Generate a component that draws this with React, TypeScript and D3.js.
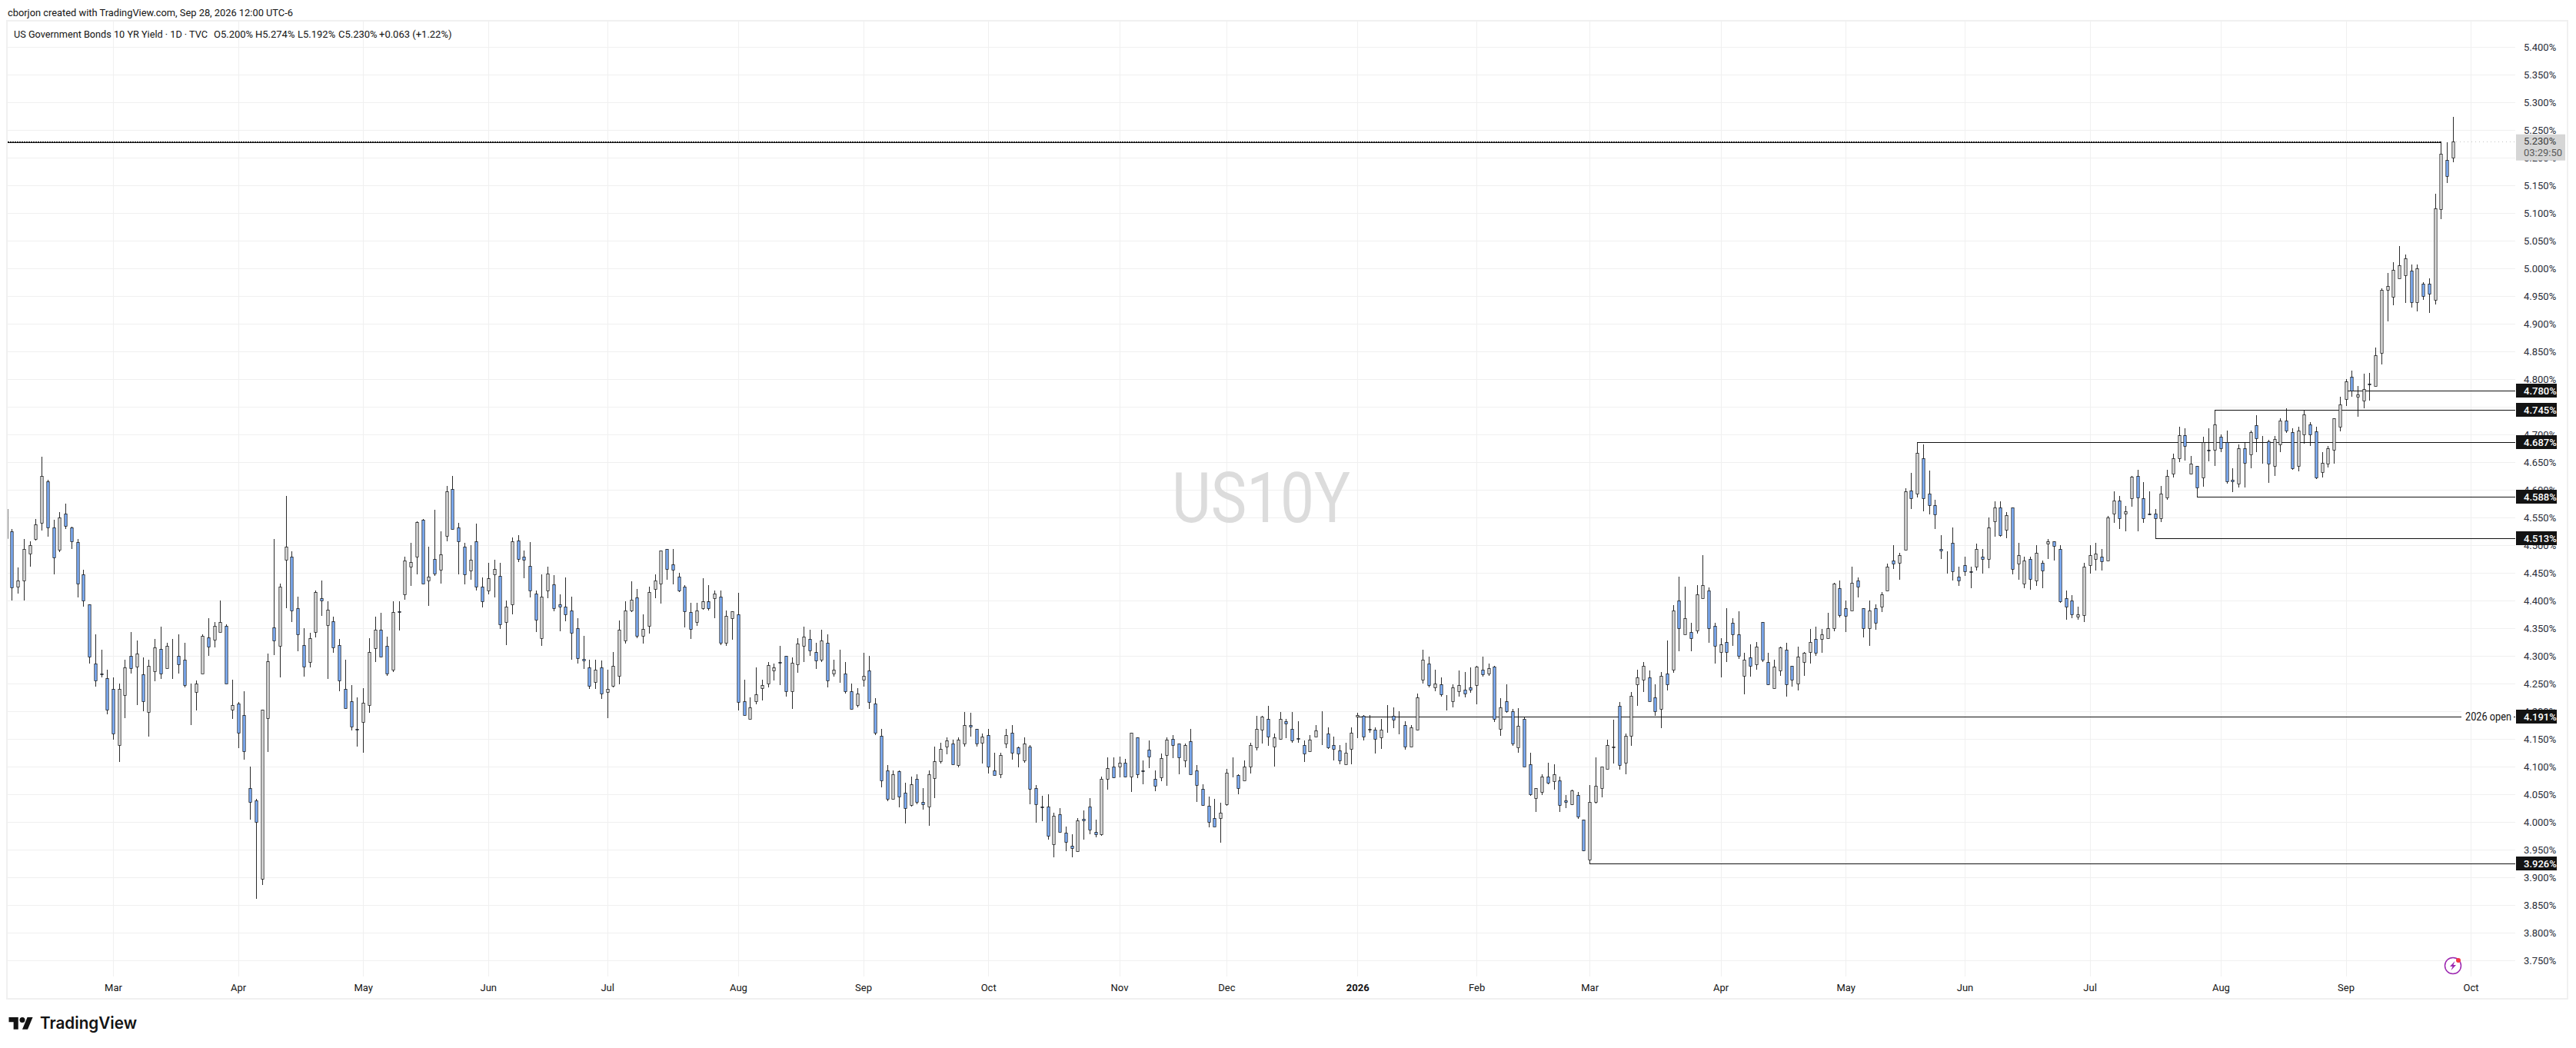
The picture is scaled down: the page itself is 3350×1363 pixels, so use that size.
import React, { useEffect, useRef } from 'react';
import * as d3 from 'd3';

// [open, high, low, close] per session, grouped by the month gridline they fall under
const feb25 = [
  [4.513, 4.566, 4.513, 4.566], [4.525, 4.529, 4.401, 4.424], [4.426, 4.46, 4.413, 4.436], [4.436, 4.512, 4.401, 4.493],
  [4.485, 4.508, 4.461, 4.501], [4.512, 4.547, 4.509, 4.538], [4.54, 4.66, 4.527, 4.626], [4.616, 4.619, 4.516, 4.533],
  [4.533, 4.546, 4.448, 4.478], [4.492, 4.56, 4.488, 4.551], [4.558, 4.576, 4.53, 4.535], [4.533, 4.534, 4.493, 4.508],
  [4.506, 4.511, 4.406, 4.431], [4.447, 4.456, 4.39, 4.4], [4.394, 4.394, 4.286, 4.299], [4.287, 4.339, 4.245, 4.256],
  [4.269, 4.312, 4.261, 4.267], [4.26, 4.276, 4.195, 4.203],
];
const mar25 = [
  [4.24, 4.262, 4.149, 4.16], [4.14, 4.251, 4.109, 4.241], [4.229, 4.294, 4.188, 4.28], [4.301, 4.344, 4.268, 4.278],
  [4.281, 4.328, 4.212, 4.305], [4.267, 4.297, 4.201, 4.219], [4.199, 4.293, 4.154, 4.283], [4.272, 4.331, 4.254, 4.316],
  [4.313, 4.353, 4.259, 4.269], [4.278, 4.324, 4.278, 4.319], [4.298, 4.331, 4.259, 4.297], [4.3, 4.339, 4.269, 4.285],
  [4.293, 4.324, 4.244, 4.247], [4.242, 4.25, 4.175, 4.242], [4.235, 4.256, 4.202, 4.25], [4.269, 4.34, 4.269, 4.337],
  [4.334, 4.369, 4.301, 4.317], [4.329, 4.362, 4.316, 4.354], [4.344, 4.4, 4.343, 4.361], [4.354, 4.358, 4.25, 4.251],
  [4.203, 4.257, 4.186, 4.211],
];
const apr25 = [
  [4.215, 4.217, 4.134, 4.161], [4.194, 4.236, 4.113, 4.128], [4.061, 4.1, 4.004, 4.037], [4.039, 4.042, 3.861, 4.0],
  [3.897, 4.203, 3.886, 4.203], [4.188, 4.304, 4.127, 4.291], [4.352, 4.512, 4.302, 4.328], [4.318, 4.431, 4.261, 4.425],
  [4.474, 4.59, 4.387, 4.497], [4.48, 4.489, 4.361, 4.383], [4.387, 4.407, 4.309, 4.339], [4.32, 4.351, 4.263, 4.281],
  [4.29, 4.342, 4.279, 4.333], [4.344, 4.418, 4.334, 4.416], [4.405, 4.437, 4.372, 4.401], [4.356, 4.399, 4.259, 4.384],
  [4.363, 4.371, 4.306, 4.315], [4.32, 4.331, 4.236, 4.256], [4.241, 4.294, 4.206, 4.206], [4.218, 4.247, 4.165, 4.172],
  [4.168, 4.226, 4.136, 4.167],
];
const may25 = [
  [4.181, 4.242, 4.125, 4.216], [4.212, 4.332, 4.197, 4.308], [4.314, 4.371, 4.29, 4.348], [4.347, 4.378, 4.299, 4.299],
  [4.319, 4.335, 4.264, 4.269], [4.275, 4.399, 4.271, 4.38], [4.381, 4.399, 4.346, 4.38], [4.412, 4.479, 4.402, 4.472],
  [4.461, 4.504, 4.427, 4.47], [4.479, 4.544, 4.448, 4.542], [4.546, 4.547, 4.431, 4.431], [4.437, 4.497, 4.391, 4.444],
  [4.476, 4.564, 4.445, 4.449], [4.456, 4.525, 4.431, 4.484], [4.517, 4.608, 4.508, 4.597], [4.602, 4.626, 4.529, 4.529],
  [4.533, 4.54, 4.448, 4.508], [4.498, 4.504, 4.429, 4.447], [4.454, 4.501, 4.438, 4.474], [4.508, 4.539, 4.419, 4.426],
  [4.426, 4.442, 4.388, 4.399],
];
const jun25 = [
  [4.418, 4.469, 4.411, 4.441], [4.447, 4.474, 4.406, 4.458], [4.445, 4.468, 4.349, 4.357], [4.362, 4.401, 4.32, 4.39],
  [4.394, 4.514, 4.376, 4.508], [4.509, 4.518, 4.47, 4.476], [4.48, 4.49, 4.441, 4.474], [4.463, 4.506, 4.406, 4.419],
  [4.413, 4.419, 4.344, 4.365], [4.332, 4.447, 4.318, 4.408], [4.419, 4.462, 4.404, 4.449], [4.43, 4.446, 4.381, 4.387],
  [4.394, 4.412, 4.345, 4.39], [4.39, 4.442, 4.363, 4.376], [4.383, 4.407, 4.293, 4.342], [4.351, 4.369, 4.286, 4.296],
  [4.295, 4.336, 4.277, 4.292], [4.279, 4.293, 4.241, 4.246], [4.253, 4.293, 4.241, 4.275], [4.28, 4.292, 4.223, 4.232],
];
const jul25 = [
  [4.235, 4.276, 4.188, 4.241], [4.246, 4.308, 4.243, 4.283], [4.265, 4.364, 4.249, 4.348], [4.328, 4.399, 4.323, 4.383],
  [4.383, 4.435, 4.38, 4.402], [4.406, 4.421, 4.333, 4.336], [4.336, 4.375, 4.323, 4.349], [4.354, 4.426, 4.341, 4.416],
  [4.421, 4.447, 4.404, 4.437], [4.431, 4.49, 4.395, 4.49], [4.494, 4.494, 4.438, 4.458], [4.466, 4.493, 4.43, 4.456],
  [4.443, 4.451, 4.415, 4.419], [4.426, 4.428, 4.352, 4.381], [4.38, 4.396, 4.331, 4.349], [4.362, 4.396, 4.355, 4.383],
  [4.386, 4.44, 4.384, 4.399], [4.399, 4.428, 4.383, 4.386], [4.404, 4.419, 4.369, 4.413], [4.408, 4.419, 4.32, 4.324],
  [4.324, 4.382, 4.318, 4.372], [4.368, 4.381, 4.329, 4.381],
];
const aug25 = [
  [4.376, 4.414, 4.202, 4.217], [4.218, 4.257, 4.194, 4.194], [4.187, 4.226, 4.187, 4.208], [4.218, 4.28, 4.213, 4.231],
  [4.242, 4.258, 4.22, 4.248], [4.25, 4.289, 4.243, 4.284], [4.274, 4.287, 4.256, 4.279], [4.289, 4.318, 4.247, 4.288],
  [4.3, 4.301, 4.227, 4.236], [4.237, 4.297, 4.205, 4.288], [4.285, 4.332, 4.27, 4.322], [4.319, 4.353, 4.29, 4.335],
  [4.331, 4.347, 4.3, 4.31], [4.308, 4.324, 4.277, 4.292], [4.294, 4.347, 4.29, 4.328], [4.324, 4.339, 4.243, 4.256],
  [4.269, 4.294, 4.263, 4.276], [4.265, 4.312, 4.252, 4.265], [4.269, 4.289, 4.233, 4.237], [4.236, 4.25, 4.204, 4.205],
  [4.211, 4.242, 4.208, 4.232],
];
const sep25 = [
  [4.258, 4.306, 4.245, 4.265], [4.274, 4.3, 4.204, 4.217], [4.215, 4.224, 4.158, 4.161], [4.156, 4.168, 4.063, 4.076],
  [4.094, 4.103, 4.038, 4.042], [4.042, 4.093, 4.042, 4.086], [4.092, 4.094, 4.027, 4.046], [4.053, 4.071, 3.997, 4.026],
  [4.031, 4.083, 4.028, 4.068], [4.078, 4.087, 4.032, 4.037], [4.037, 4.062, 4.023, 4.032], [4.028, 4.094, 3.993, 4.087],
  [4.079, 4.137, 4.044, 4.11], [4.11, 4.144, 4.106, 4.133], [4.137, 4.153, 4.123, 4.147], [4.142, 4.149, 4.105, 4.105],
  [4.103, 4.153, 4.099, 4.149], [4.142, 4.199, 4.136, 4.176], [4.176, 4.197, 4.155, 4.173], [4.168, 4.168, 4.136, 4.142],
  [4.144, 4.16, 4.106, 4.154],
];
const oct25 = [
  [4.158, 4.168, 4.088, 4.1], [4.094, 4.125, 4.085, 4.085], [4.087, 4.125, 4.08, 4.121], [4.142, 4.168, 4.134, 4.158],
  [4.162, 4.176, 4.113, 4.125], [4.135, 4.136, 4.099, 4.124], [4.112, 4.153, 4.108, 4.142], [4.136, 4.14, 4.033, 4.06],
  [4.062, 4.067, 3.999, 4.032], [4.028, 4.047, 4.002, 4.027], [4.028, 4.051, 3.968, 3.975], [3.96, 4.017, 3.937, 4.011],
  [4.014, 4.026, 3.982, 3.982], [3.981, 3.992, 3.948, 3.965], [3.957, 3.978, 3.937, 3.953], [3.947, 4.007, 3.947, 4.003],
  [4.006, 4.021, 3.968, 4.003], [4.028, 4.043, 3.978, 3.987], [3.983, 4.004, 3.972, 3.978], [3.978, 4.082, 3.975, 4.078],
  [4.078, 4.117, 4.059, 4.097], [4.101, 4.117, 4.079, 4.081],
];
const nov25 = [
  [4.101, 4.119, 4.081, 4.108], [4.108, 4.114, 4.081, 4.083], [4.083, 4.162, 4.055, 4.161], [4.153, 4.153, 4.079, 4.087],
  [4.093, 4.112, 4.068, 4.092], [4.131, 4.147, 4.098, 4.119], [4.078, 4.094, 4.056, 4.065], [4.081, 4.124, 4.074, 4.115],
  [4.121, 4.153, 4.066, 4.149], [4.15, 4.158, 4.116, 4.139], [4.142, 4.142, 4.086, 4.117], [4.112, 4.142, 4.099, 4.139],
  [4.146, 4.168, 4.086, 4.086], [4.094, 4.103, 4.037, 4.067], [4.06, 4.069, 4.029, 4.031], [4.029, 4.046, 3.99, 4.0],
  [4.008, 4.042, 3.992, 3.992], [4.007, 4.035, 3.963, 4.017],
];
const dec25 = [
  [4.032, 4.096, 4.029, 4.09], [4.09, 4.117, 4.081, 4.09], [4.085, 4.087, 4.051, 4.062], [4.075, 4.112, 4.075, 4.1],
  [4.1, 4.143, 4.088, 4.139], [4.135, 4.192, 4.13, 4.169], [4.167, 4.192, 4.142, 4.19], [4.186, 4.21, 4.138, 4.155],
  [4.137, 4.16, 4.101, 4.153], [4.151, 4.199, 4.149, 4.186], [4.182, 4.187, 4.152, 4.178], [4.169, 4.199, 4.143, 4.147],
  [4.152, 4.182, 4.144, 4.151], [4.139, 4.147, 4.109, 4.124], [4.128, 4.157, 4.128, 4.149], [4.155, 4.175, 4.155, 4.165],
  [4.167, 4.201, 4.14, 4.167], [4.16, 4.171, 4.133, 4.135], [4.139, 4.155, 4.111, 4.132], [4.13, 4.139, 4.105, 4.112],
  [4.105, 4.143, 4.105, 4.126], [4.132, 4.171, 4.105, 4.162],
];
const jan26 = [
  [4.191, 4.197, 4.152, 4.194], [4.192, 4.194, 4.148, 4.155], [4.167, 4.194, 4.162, 4.169], [4.167, 4.171, 4.124, 4.15],
  [4.153, 4.187, 4.133, 4.167], [4.17, 4.211, 4.161, 4.17], [4.192, 4.207, 4.17, 4.185], [4.175, 4.201, 4.159, 4.175],
  [4.176, 4.183, 4.131, 4.137], [4.136, 4.175, 4.136, 4.171], [4.167, 4.233, 4.165, 4.226], [4.258, 4.311, 4.25, 4.294],
  [4.287, 4.299, 4.244, 4.247], [4.243, 4.275, 4.236, 4.251], [4.249, 4.262, 4.227, 4.231], [4.212, 4.229, 4.202, 4.212],
  [4.219, 4.249, 4.208, 4.244], [4.237, 4.274, 4.227, 4.247], [4.239, 4.271, 4.226, 4.233], [4.244, 4.279, 4.234, 4.239],
];
const feb26 = [
  [4.247, 4.283, 4.213, 4.281], [4.275, 4.299, 4.263, 4.267], [4.269, 4.287, 4.265, 4.278], [4.281, 4.282, 4.181, 4.187],
  [4.168, 4.224, 4.156, 4.208], [4.219, 4.249, 4.197, 4.2], [4.2, 4.204, 4.138, 4.142], [4.135, 4.206, 4.126, 4.174],
  [4.187, 4.189, 4.1, 4.1], [4.104, 4.125, 4.047, 4.05], [4.044, 4.062, 4.019, 4.062], [4.055, 4.087, 4.049, 4.083],
  [4.083, 4.108, 4.068, 4.071], [4.074, 4.104, 4.059, 4.086], [4.075, 4.083, 4.019, 4.031], [4.04, 4.049, 4.026, 4.037],
  [4.033, 4.059, 4.031, 4.058], [4.049, 4.055, 4.006, 4.01], [4.004, 4.005, 3.947, 3.949],
];
const mar26 = [
  [3.932, 4.067, 3.926, 4.036], [4.036, 4.117, 4.034, 4.065], [4.062, 4.1, 4.045, 4.1], [4.096, 4.149, 4.096, 4.14],
  [4.135, 4.185, 4.106, 4.137], [4.21, 4.217, 4.095, 4.103], [4.107, 4.16, 4.087, 4.156], [4.156, 4.235, 4.138, 4.228],
  [4.249, 4.276, 4.21, 4.261], [4.257, 4.29, 4.235, 4.283], [4.261, 4.274, 4.219, 4.219], [4.226, 4.249, 4.192, 4.2],
  [4.205, 4.271, 4.17, 4.265], [4.269, 4.328, 4.238, 4.249], [4.275, 4.392, 4.27, 4.383], [4.4, 4.444, 4.309, 4.35],
  [4.34, 4.426, 4.34, 4.368], [4.344, 4.36, 4.309, 4.332], [4.346, 4.428, 4.341, 4.412], [4.405, 4.483, 4.405, 4.428],
  [4.419, 4.424, 4.324, 4.35], [4.355, 4.36, 4.286, 4.319],
];
const apr26 = [
  [4.307, 4.333, 4.262, 4.321], [4.326, 4.386, 4.29, 4.308], [4.36, 4.368, 4.318, 4.339], [4.339, 4.381, 4.295, 4.301],
  [4.265, 4.306, 4.231, 4.294], [4.297, 4.321, 4.263, 4.283], [4.285, 4.325, 4.276, 4.317], [4.361, 4.362, 4.29, 4.293],
  [4.289, 4.306, 4.247, 4.249], [4.242, 4.293, 4.242, 4.281], [4.274, 4.317, 4.265, 4.315], [4.312, 4.324, 4.227, 4.249],
  [4.282, 4.282, 4.245, 4.258], [4.25, 4.317, 4.238, 4.299], [4.29, 4.307, 4.265, 4.306], [4.308, 4.349, 4.287, 4.325],
  [4.331, 4.353, 4.301, 4.306], [4.331, 4.349, 4.306, 4.34], [4.333, 4.378, 4.333, 4.35], [4.35, 4.433, 4.345, 4.431],
  [4.422, 4.436, 4.37, 4.374],
];
const may26 = [
  [4.387, 4.401, 4.343, 4.372], [4.383, 4.462, 4.383, 4.432], [4.437, 4.442, 4.406, 4.426], [4.386, 4.387, 4.334, 4.351],
  [4.35, 4.4, 4.318, 4.383], [4.386, 4.394, 4.347, 4.36], [4.39, 4.415, 4.379, 4.412], [4.419, 4.467, 4.418, 4.462],
  [4.472, 4.5, 4.458, 4.467], [4.469, 4.487, 4.438, 4.483], [4.492, 4.603, 4.492, 4.597], [4.599, 4.631, 4.565, 4.585],
  [4.594, 4.687, 4.587, 4.667], [4.657, 4.683, 4.561, 4.585], [4.593, 4.635, 4.556, 4.572], [4.572, 4.583, 4.529, 4.556],
  [4.493, 4.519, 4.476, 4.49], [4.483, 4.489, 4.449, 4.483], [4.505, 4.532, 4.436, 4.453], [4.444, 4.462, 4.427, 4.437],
];
const jun26 = [
  [4.465, 4.48, 4.445, 4.453], [4.453, 4.462, 4.423, 4.452], [4.461, 4.503, 4.454, 4.493], [4.48, 4.494, 4.449, 4.475],
  [4.476, 4.551, 4.459, 4.532], [4.544, 4.579, 4.516, 4.568], [4.568, 4.579, 4.516, 4.518], [4.528, 4.56, 4.513, 4.554],
  [4.568, 4.568, 4.448, 4.458], [4.467, 4.504, 4.438, 4.483], [4.431, 4.479, 4.423, 4.472], [4.476, 4.48, 4.42, 4.439],
  [4.437, 4.501, 4.427, 4.487], [4.469, 4.472, 4.423, 4.455], [4.503, 4.512, 4.476, 4.508], [4.508, 4.508, 4.473, 4.499],
  [4.494, 4.501, 4.396, 4.399], [4.405, 4.419, 4.366, 4.39], [4.4, 4.41, 4.368, 4.376], [4.371, 4.39, 4.366, 4.376],
  [4.374, 4.469, 4.362, 4.461],
];
const jul26 = [
  [4.465, 4.501, 4.449, 4.483], [4.476, 4.504, 4.454, 4.485], [4.48, 4.493, 4.454, 4.471], [4.472, 4.553, 4.472, 4.551],
  [4.557, 4.597, 4.54, 4.581], [4.581, 4.59, 4.53, 4.549], [4.557, 4.571, 4.526, 4.561], [4.585, 4.626, 4.57, 4.624],
  [4.626, 4.636, 4.526, 4.586], [4.585, 4.614, 4.54, 4.549], [4.557, 4.597, 4.554, 4.556], [4.557, 4.565, 4.513, 4.549],
  [4.549, 4.608, 4.542, 4.594], [4.587, 4.637, 4.583, 4.626], [4.629, 4.665, 4.623, 4.658], [4.658, 4.714, 4.651, 4.699],
  [4.699, 4.711, 4.653, 4.68], [4.629, 4.662, 4.628, 4.647], [4.643, 4.643, 4.588, 4.605], [4.622, 4.696, 4.606, 4.686],
  [4.672, 4.711, 4.652, 4.671], [4.672, 4.745, 4.644, 4.718],
];
const aug26 = [
  [4.696, 4.701, 4.668, 4.676], [4.687, 4.708, 4.612, 4.615], [4.619, 4.639, 4.596, 4.615], [4.611, 4.683, 4.605, 4.676],
  [4.676, 4.687, 4.604, 4.649], [4.664, 4.708, 4.64, 4.704], [4.717, 4.735, 4.668, 4.693], [4.687, 4.697, 4.647, 4.686],
  [4.688, 4.691, 4.613, 4.648], [4.644, 4.697, 4.626, 4.692], [4.683, 4.729, 4.669, 4.726], [4.726, 4.747, 4.703, 4.708],
  [4.704, 4.711, 4.636, 4.64], [4.644, 4.714, 4.634, 4.708], [4.701, 4.743, 4.684, 4.736], [4.719, 4.723, 4.68, 4.7],
  [4.706, 4.715, 4.62, 4.622], [4.633, 4.669, 4.622, 4.649], [4.647, 4.679, 4.641, 4.676], [4.672, 4.729, 4.648, 4.729],
  [4.715, 4.768, 4.706, 4.754],
];
const sep26 = [
  [4.764, 4.8, 4.752, 4.796], [4.804, 4.815, 4.769, 4.779], [4.769, 4.788, 4.733, 4.772], [4.761, 4.81, 4.748, 4.783],
  [4.792, 4.811, 4.761, 4.791], [4.788, 4.857, 4.788, 4.844], [4.847, 4.964, 4.827, 4.961], [4.961, 4.992, 4.905, 4.968],
  [4.949, 5.011, 4.934, 4.997], [4.982, 5.04, 4.982, 5.006], [4.988, 5.025, 4.938, 5.019], [4.996, 5.007, 4.93, 4.939],
  [4.939, 5.007, 4.923, 5.0], [4.972, 4.975, 4.944, 4.95], [4.972, 4.983, 4.92, 4.954], [4.943, 5.135, 4.935, 5.109],
  [5.107, 5.229, 5.09, 5.207], [5.196, 5.228, 5.154, 5.167], [5.2, 5.274, 5.192, 5.23],
];

const months = [feb25, mar25, apr25, may25, jun25, jul25, aug25, sep25, oct25, nov25, dec25, jan26, feb26, mar26, apr26, may26, jun26, jul26, aug26, sep26];
const monthLabels = ['Mar', 'Apr', 'May', 'Jun', 'Jul', 'Aug', 'Sep', 'Oct', 'Nov', 'Dec', '2026', 'Feb', 'Mar', 'Apr', 'May', 'Jun', 'Jul', 'Aug', 'Sep', 'Oct'];
const barsToOct = 3; // Oct gridline sits this many empty sessions past the last bar

const yTicks = [5.4, 5.35, 5.3, 5.25, 5.2, 5.15, 5.1, 5.05, 5.0, 4.95, 4.9, 4.85, 4.8, 4.75, 4.7, 4.65, 4.6, 4.55, 4.5, 4.45, 4.4, 4.35, 4.3, 4.25, 4.2, 4.15, 4.1, 4.05, 4.0, 3.95, 3.9, 3.85, 3.8, 3.75];

// horizontal rays: level and the bar they start on
const rayLevels = [4.78, 4.745, 4.687, 4.588, 4.513, 4.191, 3.926];
const rayStartBars = [393, 371, 321, 368, 361, 227, 266];
const topLevel = 5.23;
const topLevelEndBar = 409;

const headerText = 'cborjon created with TradingView.com, Sep 28, 2026 12:00 UTC-6';
const titleText = 'US Government Bonds 10 YR Yield · 1D · TVC';
const ohlcLabels = ['O5.200%', 'H5.274%', 'L5.192%', 'C5.230%', '+0.063 (+1.22%)'];
const ohlcX = [278, 332, 387, 440, 493];

const width = 3350;
const height = 1363;
const plotLeft = 10;
const plotRight = 3271;
const plotTop = 28;
const plotBottom = 1270;
const font = 'Roboto, sans-serif';
const ink = '#131313';

export default () => {
  const svgRef = useRef<SVGSVGElement>(null);

  useEffect(() => {
    if (!svgRef.current) {
      return;
    }

    const bars = months.flat();
    const monthStarts: number[] = [];
    let n = 0;
    months.slice(1).forEach(m => {
      monthStarts.push(feb25.length + n);
      n += m.length;
    });
    monthStarts.push(bars.length - 1 + barsToOct);

    const x = d3.scaleLinear().domain([18, 393]).range([147, 3050.5]);
    const y = d3.scaleLinear().domain([5.3, 3.75]).range([133.3, 1249.3]);
    const px = (i: number) => Math.round(x(i));
    const py = (v: number) => Math.round(y(v));

    const svg = d3.select(svgRef.current);
    svg.selectAll('*').remove();

    svg.append('rect').attr('width', width).attr('height', height).attr('fill', '#fff');
    svg.append('clipPath').attr('id', 'plot').append('rect')
      .attr('x', plotLeft).attr('y', plotTop)
      .attr('width', plotRight - plotLeft).attr('height', plotBottom - plotTop);

    // grid
    const grid = svg.append('g').attr('stroke', '#f0f0f0').attr('stroke-width', 1);
    grid.selectAll('line.h').data(yTicks).enter().append('line')
      .attr('x1', plotLeft).attr('x2', plotRight)
      .attr('y1', d => py(d) + 0.5).attr('y2', d => py(d) + 0.5);
    grid.selectAll('line.v').data(monthStarts).enter().append('line')
      .attr('x1', d => px(d) + 0.5).attr('x2', d => px(d) + 0.5)
      .attr('y1', plotTop).attr('y2', plotBottom);

    // watermark
    svg.append('text')
      .attr('x', 1640).attr('y', 679)
      .attr('text-anchor', 'middle')
      .attr('font-family', font).attr('font-size', 90)
      .attr('textLength', 232).attr('lengthAdjust', 'spacingAndGlyphs')
      .attr('fill', '#dcdcdc')
      .text('US10Y');

    // axes
    const yAxis = svg.append('g')
      .attr('transform', `translate(${plotRight + 1},0)`)
      .call(d3.axisRight(y).tickValues(yTicks).tickSize(0).tickPadding(10).tickFormat(d => `${(+d).toFixed(3)}%`));
    yAxis.select('.domain').remove();
    yAxis.selectAll('text').attr('font-family', font).attr('font-size', 13).attr('fill', '#2a2e39');

    const xAxis = svg.append('g')
      .attr('transform', `translate(0,${plotBottom})`)
      .call(d3.axisBottom(x).tickValues(monthStarts).tickSize(0).tickPadding(10).tickFormat((d, i) => monthLabels[i]));
    xAxis.select('.domain').remove();
    xAxis.selectAll('text').attr('font-family', font).attr('font-size', 13).attr('fill', ink);
    xAxis.selectAll('text').filter((d, i) => monthLabels[i] === '2026').attr('font-weight', 700);

    // rays sit behind the candles
    const rays = svg.append('g').attr('stroke', ink).attr('stroke-width', 1);
    rays.selectAll('line').data(rayLevels).enter().append('line')
      .attr('x1', (d, i) => px(rayStartBars[i])).attr('x2', plotRight)
      .attr('y1', d => py(d) + 0.5).attr('y2', d => py(d) + 0.5);
    const topY = py(topLevel);
    rays.append('line').attr('x1', plotLeft).attr('x2', px(topLevelEndBar))
      .attr('y1', topY + 1.5).attr('y2', topY + 1.5);
    rays.append('line').attr('x1', plotLeft).attr('x2', px(topLevelEndBar))
      .attr('y1', topY + 0.5).attr('y2', topY + 0.5).attr('stroke-dasharray', '2 1');

    // last price dotted line
    const lastBar = bars[bars.length - 1];
    svg.append('line')
      .attr('x1', px(bars.length - 1) + 4).attr('x2', plotRight)
      .attr('y1', py(lastBar[3]) + 0.5).attr('y2', py(lastBar[3]) + 0.5)
      .attr('stroke', '#c4c4c4').attr('stroke-width', 1).attr('stroke-dasharray', '1 4');

    // candles
    const candle = svg.append('g').attr('clip-path', 'url(#plot)')
      .selectAll('g').data(bars).enter().append('g');
    candle.append('line')
      .attr('x1', (d, i) => px(i) + 0.5).attr('x2', (d, i) => px(i) + 0.5)
      .attr('y1', d => py(d[1])).attr('y2', d => py(d[2]))
      .attr('stroke', ink).attr('stroke-width', 0.9);
    candle.append('rect')
      .attr('x', (d, i) => px(i) + 0.5 - 1.65)
      .attr('width', 3.3)
      .attr('y', d => py(Math.max(d[0], d[3])) + 0.5)
      .attr('height', d => Math.abs(py(d[0]) - py(d[3])))
      .attr('fill', d => (d[3] >= d[0] ? '#e0e0e0' : '#82b4ff'))
      .attr('stroke', ink).attr('stroke-width', 0.75);

    // level tags
    const tag = svg.append('g').selectAll('g').data(rayLevels).enter().append('g')
      .attr('transform', d => `translate(3272,${py(d)})`);
    tag.append('rect').attr('y', -9).attr('width', 53).attr('height', 18).attr('fill', ink);
    tag.append('text').attr('x', 10).attr('dy', '0.35em')
      .attr('font-family', font).attr('font-size', 13).attr('font-weight', 500).attr('fill', '#fff')
      .text(d => `${d.toFixed(3)}%`);

    // 2026 open note
    const openY = py(4.191);
    svg.append('rect').attr('x', 3201).attr('y', openY - 8).attr('width', 68).attr('height', 16).attr('fill', '#fff');
    svg.append('text').attr('x', 3206).attr('y', openY).attr('dy', '0.35em')
      .attr('font-family', font).attr('font-size', 14).attr('fill', ink)
      .attr('textLength', 60).attr('lengthAdjust', 'spacingAndGlyphs')
      .text('2026 open');

    // last price box
    const lastY = y(lastBar[3]);
    svg.append('rect').attr('x', 3272).attr('y', lastY - 9).attr('width', 64).attr('height', 34).attr('fill', '#d6d6d6');
    svg.append('text').attr('x', 3282).attr('y', lastY).attr('dy', '0.35em')
      .attr('font-family', font).attr('font-size', 13).attr('fill', '#3a3a3a')
      .text(`${lastBar[3].toFixed(3)}%`);
    svg.append('text').attr('x', 3282).attr('y', lastY + 15).attr('dy', '0.35em')
      .attr('font-family', font).attr('font-size', 13).attr('fill', '#5a5a5a')
      .text('03:29:50');

    // frame
    svg.append('rect')
      .attr('x', 9).attr('y', 27).attr('width', 3330).attr('height', 1272)
      .attr('fill', 'none').attr('stroke', '#f0f0f0').attr('stroke-width', 2);

    // header lines
    svg.append('text').attr('x', 10).attr('y', 16).attr('dy', '0.35em')
      .attr('font-family', font).attr('font-size', 13).attr('fill', ink)
      .attr('textLength', 371).attr('lengthAdjust', 'spacingAndGlyphs')
      .text(headerText);
    svg.append('text').attr('x', 18).attr('y', 44).attr('dy', '0.35em')
      .attr('font-family', font).attr('font-size', 13).attr('fill', ink)
      .attr('textLength', 252).attr('lengthAdjust', 'spacingAndGlyphs')
      .text(titleText);
    svg.selectAll('text.ohlc').data(ohlcLabels).enter().append('text')
      .attr('class', 'ohlc')
      .attr('x', (d, i) => ohlcX[i]).attr('y', 44).attr('dy', '0.35em')
      .attr('font-family', font).attr('font-size', 13).attr('fill', ink)
      .text(d => d);

    // TradingView logo
    const logo = svg.append('g').attr('transform', 'translate(11.5,1319.5) scale(0.875)').attr('fill', ink);
    logo.append('path').attr('d', 'M14 22H7V11H0V4h14v18zM28 22h-8l7.5-18h8L28 22z');
    logo.append('circle').attr('cx', 20).attr('cy', 8).attr('r', 4);
    svg.append('text').attr('x', 52).attr('y', 1338)
      .attr('font-family', 'Inter, Roboto, sans-serif').attr('font-size', 21).attr('font-weight', 600)
      .attr('textLength', 126).attr('lengthAdjust', 'spacingAndGlyphs')
      .attr('fill', ink)
      .text('TradingView');

    // news marker
    const news = svg.append('g').attr('transform', 'translate(3190,1256)');
    news.append('circle').attr('r', 10.5).attr('fill', '#fff').attr('stroke', '#9c27b0').attr('stroke-width', 1.5);
    news.append('path').attr('d', 'M2.5 -6L-4 1H-0.5L-2.5 6L4 -1H0.5Z').attr('fill', '#9c27b0');
    news.append('circle').attr('cx', 7).attr('cy', -7).attr('r', 3).attr('fill', '#f23645');
  }, []);

  return (
    <svg
      ref={svgRef}
      width={width}
      height={height}
      style={{ position: 'absolute', left: 0, top: 0, display: 'block' }}
    />
  );
};
